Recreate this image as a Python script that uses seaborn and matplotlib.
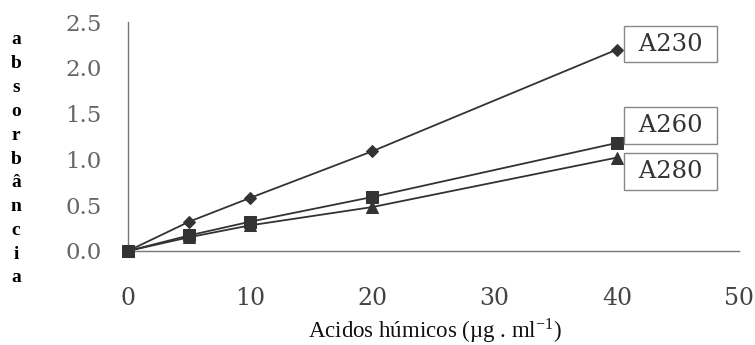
import pandas as pd
import matplotlib
matplotlib.use('Agg')
import matplotlib.pyplot as plt
import seaborn as sns

# concentrations (ug/ml) and absorbances
conc = [0, 5, 10, 20, 40]
a230 = [0.0, 0.32, 0.58, 1.09, 2.20]
a260 = [0.0, 0.17, 0.32, 0.59, 1.18]
a280 = [0.0, 0.15, 0.28, 0.48, 1.02]

series_names = ['A230', 'A280', 'A260']
series_vals = {'A230': a230, 'A260': a260, 'A280': a280}
series_markers = {'A230': 'D', 'A260': 's', 'A280': '^'}
marker_sizes = {'A230': 6, 'A260': 9, 'A280': 8}
# label box centres (data coords)
label_pos = {'A230': (44.4, 2.26), 'A260': (44.4, 1.37), 'A280': (44.4, 0.87)}

rows = []
for name in series_names:
    for c, v in zip(conc, series_vals[name]):
        rows.append({'conc': c, 'abs': v, 'serie': name})
df = pd.DataFrame(rows)

sns.set_style('white')
plt.rcParams['font.family'] = ['DejaVu Serif', 'DejaVu Sans']
plt.rcParams['mathtext.fontset'] = 'stix'

fig = plt.figure(figsize=(7.55, 3.45), dpi=100)
ax = fig.add_axes([0.1695, 0.2725, 0.8095, 0.6635])

line_col = '#333333'
for name in series_names:
    sns.lineplot(data=df[df['serie'] == name], x='conc', y='abs', ax=ax,
                 color=line_col, marker=series_markers[name],
                 markersize=marker_sizes[name], linewidth=1.3,
                 markeredgecolor=line_col, clip_on=False, zorder=3)

for name in ['A230', 'A260', 'A280']:
    x, y = label_pos[name]
    ax.text(x, y, ' ' + name + ' ', fontsize=17.5, color='#333333', ha='center', va='center',
            bbox=dict(boxstyle='square,pad=0.28', fc='white', ec='#888888', lw=1))

ax.set_xlim(0, 50)
ax.set_ylim(0, 2.5)
ax.set_xticks([0, 10, 20, 30, 40, 50])
ax.set_yticks([0, 0.5, 1.0, 1.5, 2.0, 2.5])
ax.set_yticklabels(['0.0', '0.5', '1.0', '1.5', '2.0', '2.5'])
for lab in ax.get_xticklabels():
    lab.set_fontsize(17)
    lab.set_color('#444444')
for lab in ax.get_yticklabels():
    lab.set_fontsize(16.5)
    lab.set_color('#666666')
ax.tick_params(axis='both', direction='out', length=8, width=1, color='#777777')
ax.tick_params(axis='x', pad=18)
ax.tick_params(axis='y', pad=11)
for s in ['top', 'right']:
    ax.spines[s].set_visible(False)
for s in ['left', 'bottom']:
    ax.spines[s].set_color('#777777')
    ax.spines[s].set_linewidth(1)

ax.set_xlabel('')
ax.set_ylabel('')
fig.text(435 / 755, 1 - 331 / 345, 'Acidos húmicos (µg . ml$^{\\mathregular{-1}}$)',
         family=['Liberation Serif', 'DejaVu Serif'], fontsize=16.5,
         ha='center', va='center', color='#111111')

# vertical stacked y label
letters = list('absorbância')
for i, ch in enumerate(letters):
    ypx = 40 + i * 23.8
    fig.text(16 / 755, 1 - ypx / 345, ch, family=['Liberation Serif', 'DejaVu Serif'],
             fontsize=14, fontweight='bold', ha='center', va='center', color='black')

fig.savefig('out.png', dpi=100)
